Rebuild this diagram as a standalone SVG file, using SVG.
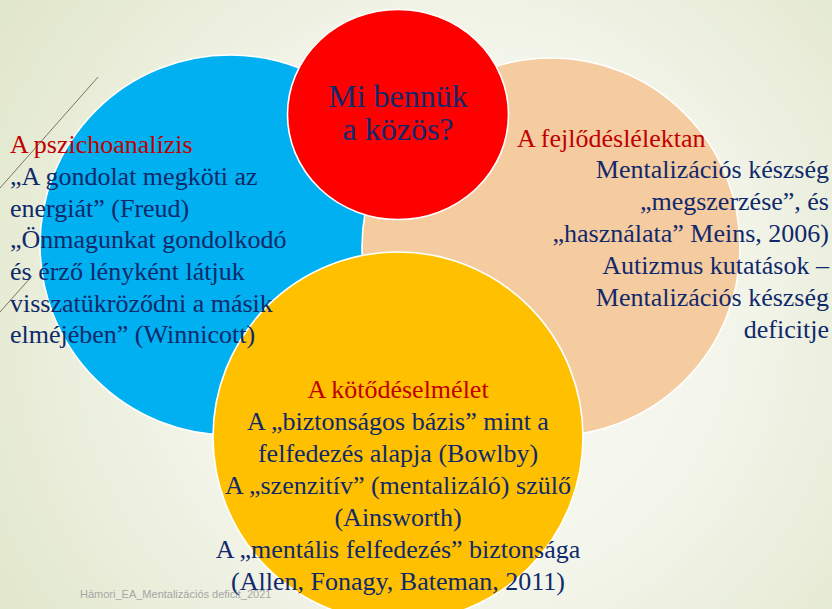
<svg xmlns="http://www.w3.org/2000/svg" width="832" height="609" viewBox="0 0 832 609">
<defs>
<radialGradient id="bg" cx="460" cy="320" r="560" gradientUnits="userSpaceOnUse">
<stop offset="0" stop-color="#f8f9f3"/>
<stop offset="0.45" stop-color="#f4f6ec"/>
<stop offset="1" stop-color="#e0e6ca"/>
</radialGradient>
</defs>
<rect width="832" height="609" fill="url(#bg)"/>
<g id="deco" stroke="#7d7462" stroke-width="1" fill="none">
<line x1="98" y1="77" x2="0" y2="188"/>
<line x1="32" y1="276" x2="0" y2="312"/>
</g>
<g stroke="#ffffff" stroke-width="1.6">
<g id="pszichoanalizis">
<circle cx="230" cy="245" r="190" fill="#00b0f0"/>
</g>
<g id="fejlodeslelektan">
<circle cx="551" cy="247" r="189" fill="#f5cba0"/>
</g>
<g id="kotodeselmelet">
<circle cx="398" cy="437" r="185" fill="#ffc000"/>
</g>
<g id="kozos">
<ellipse cx="398" cy="114.5" rx="110.5" ry="105" fill="#ff0000"/>
</g>
</g>
<g id="connectors"/>
<g font-family="Liberation Serif, serif" font-size="26" fill="#10296b">
<g id="label-kozos" font-size="32" text-anchor="middle">
<text style="font-family:'Liberation Serif',serif !important" x="398" y="107">Mi benn&#252;k</text>
<text style="font-family:'Liberation Serif',serif !important" x="398" y="140">a k&#246;z&#246;s?</text>
</g>
<g id="text-psz">
<text style="font-family:'Liberation Serif',serif !important" fill="#c00000" x="10" y="153">A pszichoanal&#237;zis</text>
<text style="font-family:'Liberation Serif',serif !important" x="10" y="185">&#8222;A gondolat megk&#246;ti az</text>
<text style="font-family:'Liberation Serif',serif !important" x="10" y="217">energi&#225;t&#8221; (Freud)</text>
<text style="font-family:'Liberation Serif',serif !important" x="10" y="248">&#8222;&#214;nmagunkat gondolkod&#243;</text>
<text style="font-family:'Liberation Serif',serif !important" x="10" y="280">&#233;s &#233;rz&#337; l&#233;nyk&#233;nt l&#225;tjuk</text>
<text style="font-family:'Liberation Serif',serif !important" x="10" y="312">visszat&#252;kr&#246;z&#337;dni a m&#225;sik</text>
<text style="font-family:'Liberation Serif',serif !important" x="10" y="343">elm&#233;j&#233;ben&#8221; (Winnicott)</text>
</g>
<g id="text-fejl">
<text style="font-family:'Liberation Serif',serif !important" fill="#c00000" x="517" y="147">A fejl&#337;d&#233;sl&#233;lektan</text>
<g text-anchor="end">
<text style="font-family:'Liberation Serif',serif !important" x="829" y="178">Mentaliz&#225;ci&#243;s k&#233;szs&#233;g</text>
<text style="font-family:'Liberation Serif',serif !important" x="829" y="210">&#8222;megszerz&#233;se&#8221;, &#233;s</text>
<text style="font-family:'Liberation Serif',serif !important" x="829" y="242">&#8222;haszn&#225;lata&#8221; Meins, 2006)</text>
<text style="font-family:'Liberation Serif',serif !important" x="829" y="274">Autizmus kutat&#225;sok &#8211;</text>
<text style="font-family:'Liberation Serif',serif !important" x="829" y="306">Mentaliz&#225;ci&#243;s k&#233;szs&#233;g</text>
<text style="font-family:'Liberation Serif',serif !important" x="829" y="338">deficitje</text>
</g>
</g>
<text style="font-family:'Liberation Sans',sans-serif !important" font-size="11" fill="#a6a6a6" x="80" y="598">H&#225;mori_EA_Mentaliz&#225;ci&#243;s deficit_2021</text>
<g id="text-kot" text-anchor="middle">
<text style="font-family:'Liberation Serif',serif !important" fill="#c00000" x="398" y="398">A k&#246;t&#337;d&#233;selm&#233;let</text>
<text style="font-family:'Liberation Serif',serif !important" x="398" y="430">A &#8222;biztons&#225;gos b&#225;zis&#8221; mint a</text>
<text style="font-family:'Liberation Serif',serif !important" x="398" y="462">felfedez&#233;s alapja (Bowlby)</text>
<text style="font-family:'Liberation Serif',serif !important" x="398" y="494">A &#8222;szenzit&#237;v&#8221; (mentaliz&#225;l&#243;) sz&#252;l&#337;</text>
<text style="font-family:'Liberation Serif',serif !important" x="398" y="526">(Ainsworth)</text>
<text style="font-family:'Liberation Serif',serif !important" x="398" y="558">A &#8222;ment&#225;lis felfedez&#233;s&#8221; biztons&#225;ga</text>
<text style="font-family:'Liberation Serif',serif !important" x="398" y="590">(Allen, Fonagy, Bateman, 2011)</text>
</g>
</g>
</svg>
